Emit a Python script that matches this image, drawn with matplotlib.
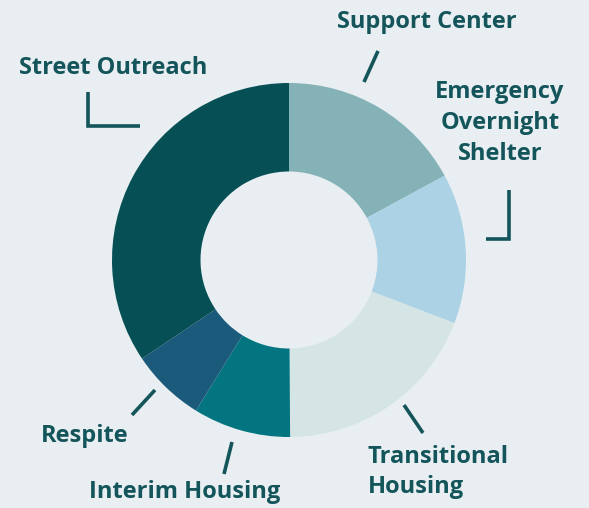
import numpy as np
import matplotlib
matplotlib.use("Agg")
import matplotlib.pyplot as plt

# program shares (percent), clockwise from 12 o'clock
programs = ["Support Center", "Emergency Overnight Shelter", "Transitional Housing",
            "Interim Housing", "Respite", "Street Outreach"]
shares = [17.1, 13.7, 19.1, 8.9, 6.8, 34.4]
colors = ["#85b2b7", "#acd2e6", "#d5e5e5", "#027580", "#1b5a7b", "#054f55"]

label_text = ["Support Center", "Emergency\nOvernight\nShelter", "Transitional\nHousing",
              "Interim Housing", "Respite", "Street Outreach"]

BG = "#e8eef1"
INK = "#13555a"

W, H = 589, 508
CX, CY, R = 289, 260, 177

def px(x, y):
    # pixel position -> data units (pie radius = 1)
    return (x - CX) / R, (CY - y) / R

fig = plt.figure(figsize=(W / 100, H / 100), dpi=100, facecolor=BG)
ax = fig.add_axes([0, 0, 1, 1])
ax.set_facecolor(BG)
ax.pie(shares, colors=colors, startangle=90, counterclock=False, radius=1,
       wedgeprops=dict(width=0.5, edgecolor="none"))
ax.set_xlim((0 - CX) / R, (W - CX) / R)
ax.set_ylim((CY - H) / R, CY / R)
ax.set_aspect("auto")
ax.axis("off")

font = dict(family="Open Sans", fontweight="bold", fontsize=17, color=INK)

# label placement (pixels): x, y, ha, multi-line alignment
placements = [
    (427, 22, "center", "center"),
    (500, 123, "center", "center"),
    (368, 472, "left", "left"),
    (185, 492, "center", "center"),
    (85, 436, "center", "center"),
    (113, 68, "center", "center"),
]
for txt, (x, y, ha, ma) in zip(label_text, placements):
    ax.text(*px(x, y), txt, ha=ha, va="center", multialignment=ma,
            linespacing=1.37, **font)

# leader lines (pixels)
leaders = [
    [(378, 51), (364, 82)],
    [(509, 190), (509, 239), (486, 239)],
    [(404, 405), (423, 433)],
    [(232, 442), (224, 474)],
    [(155, 390), (132, 415)],
    [(88, 92), (88, 126), (140, 126)],
]
for pts in leaders:
    xs, ys = zip(*[px(x, y) for x, y in pts])
    ax.plot(xs, ys, color=INK, lw=2.6, solid_capstyle="butt", solid_joinstyle="miter")

fig.savefig("out.png", dpi=100, facecolor=BG)
